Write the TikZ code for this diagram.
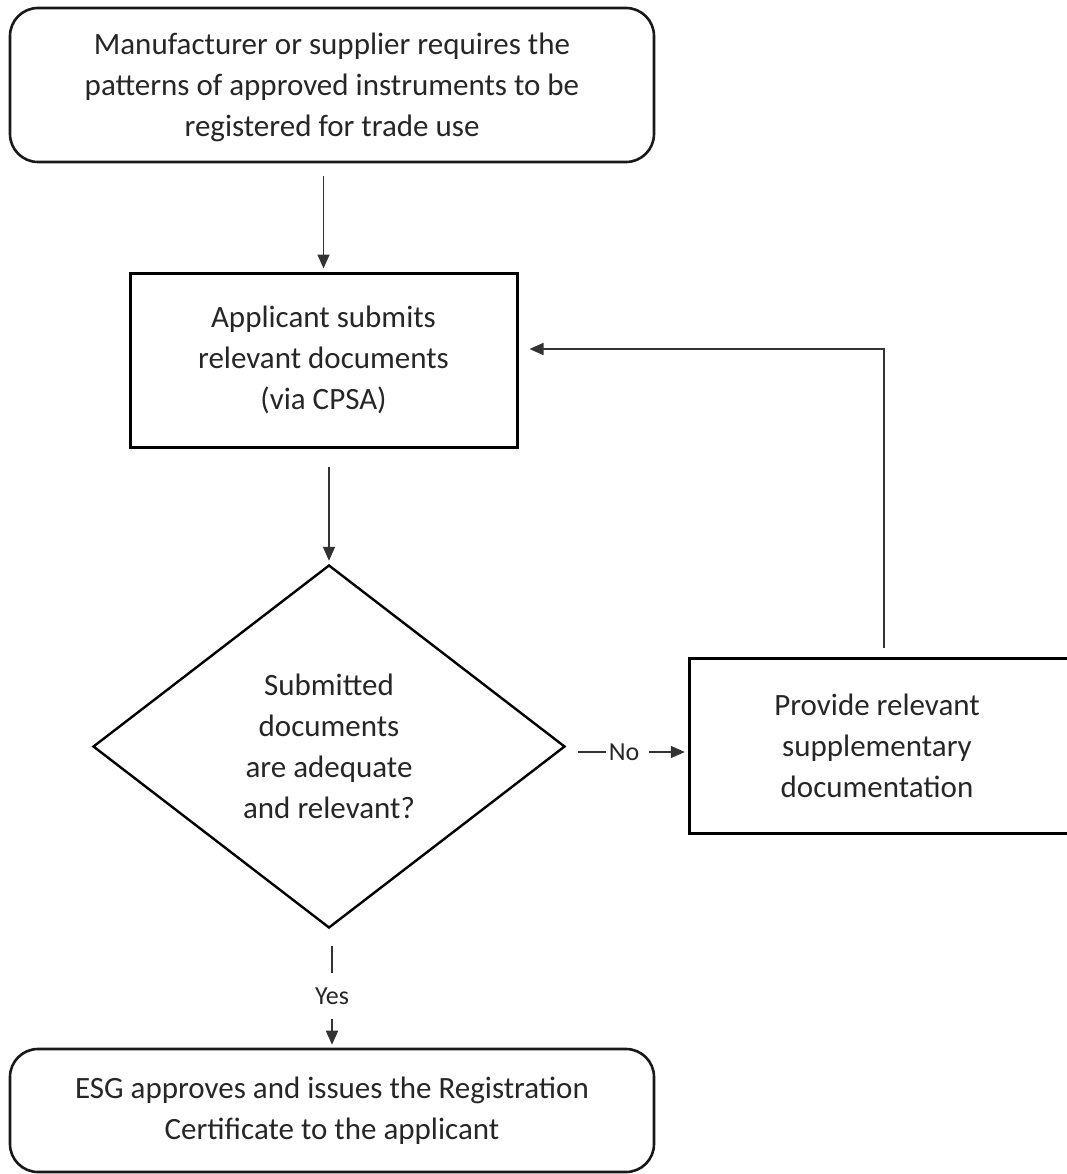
\documentclass[tikz,border=0pt]{standalone}
\usepackage{fontspec}
\setmainfont{Carlito}
\usetikzlibrary{shapes.geometric,arrows.meta,calc}
\begin{document}
\begin{tikzpicture}[x=1pt,y=-1pt,
  txt/.style={font=\fontsize{31}{41}\selectfont, text=black!85, align=center},
  rbox/.style={txt, draw=black!90, line width=2.6pt, rounded corners=28pt, minimum width=644pt, inner sep=0pt},
  sbox/.style={txt, draw=black, line width=3pt, inner sep=0pt},
  conn/.style={draw=black!80, line width=1.7pt},
  arr/.style={conn, -{Triangle[length=14pt,width=12pt]}},
  lab/.style={font=\fontsize{26}{30}\selectfont, text=black!85}]
\clip (0,0) rectangle (1067,1174);
\node[rbox, minimum height=154pt, text depth=-4pt] (top) at (332,85) {Manufacturer or supplier requires the\\patterns of approved instruments to be\\registered for trade use};
\node[sbox, minimum width=387pt, minimum height=174pt] (submit) at (323.5,360) {Applicant submits\\relevant documents\\(via CPSA)};
\node[diamond, draw=black, line width=2.4pt, minimum width=472pt, minimum height=363pt, inner sep=0pt, txt] (decide) at (329,746.5) {Submitted\\documents\\are adequate\\and relevant?};
\node[minimum width=374pt, minimum height=174pt, inner sep=0pt, txt] (supp) at (877,746) {Provide relevant\\supplementary\\documentation};
\draw[draw=black, line width=3pt] ([xshift=20pt]supp.north east) -- (supp.north west) -- (supp.south west) -- ([xshift=20pt]supp.south east);
\node[rbox, minimum height=123pt] (approve) at (332,1110.5) {ESG approves and issues the Registration\\Certificate to the applicant};
\node[lab, inner xsep=3pt, inner ysep=0pt] (no) at (624,752) {No};
\node[lab, inner ysep=14pt] (yes) at (332,996) {Yes};
\draw[arr, shorten <=13pt, shorten >=3pt] (top.south -| submit.north) -- (submit.north);
\draw[arr, shorten <=18pt, shorten >=3pt] (submit.south -| decide.north) -- (decide.north);
\draw[conn, shorten <=12pt] (decide.east |- no) -- (no.west);
\draw[arr, shorten <=7pt, shorten >=5pt] (no.east) -- (supp.west |- no);
\draw[arr] ([xshift=7pt, yshift=11pt]supp.north) |- ([xshift=11pt, yshift=11pt]submit.east);
\draw[conn, shorten <=17pt] (decide.south -| yes) -- (yes.north);
\draw[arr, shorten >=3pt] (yes.south) -- (approve.north -| yes);
\end{tikzpicture}
\end{document}
